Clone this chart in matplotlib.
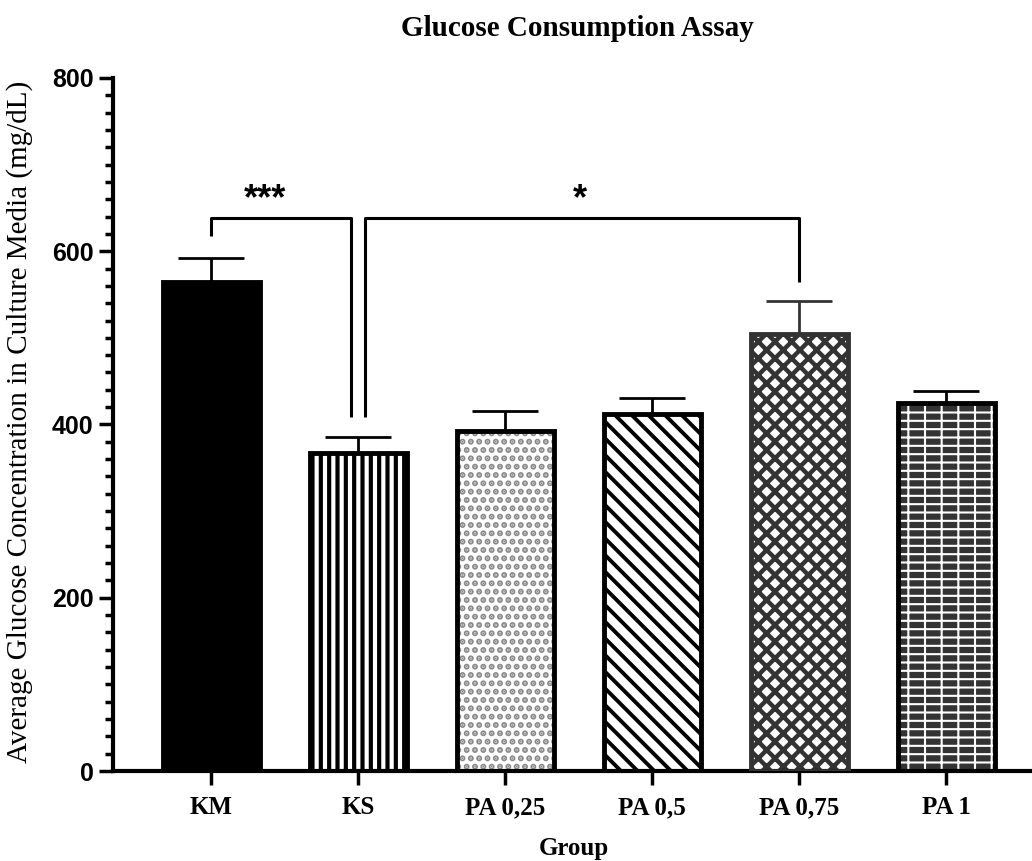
import matplotlib
matplotlib.use("Agg")
import matplotlib.pyplot as plt
from matplotlib.ticker import MultipleLocator

groups = ["KM", "KS", "PA 0,25", "PA 0,5", "PA 0,75", "PA 1"]
means = [565, 367, 392, 412, 504, 425]
errors = [27, 19, 24, 18, 39, 14]

# significance brackets: (x_left, x_right, y_top, y_left_end, y_right_end, label, label_x, label_y)
brackets = [
    (0.0, 0.95, 638, 617, 409, "***", 0.37, 659),
    (1.05, 4.0, 638, 409, 565, "*", 2.51, 659),
]

# fill style per bar: (face, hatch colour, hatch, hatch linewidth, outline colour)
styles = [
    ("black", None, None, 0, "black"),
    ("white", "black", "||", 3.0, "black"),
    ("white", "#8a8a8a", "..", 3.0, "black"),
    ("white", "black", "\\\\", 2.8, "black"),
    ("white", "#333333", "xx", 3.2, "#333333"),
    ("#333333", "white", "--|", 1.5, "black"),
]

serif = "Liberation Serif"
sans = "Liberation Sans"

fig = plt.figure(figsize=(10.32, 8.61), dpi=100)
ax = fig.add_axes([0.1095, 0.1045, 0.8885, 0.805])

x = list(range(len(groups)))
w = 0.66

for i in x:
    face, hcol, hatch, hlw, edge = styles[i]
    plt.rcParams["hatch.linewidth"] = hlw if hlw else 1.0
    if hatch:
        ax.bar(i, means[i], w, color=face, edgecolor=hcol, hatch=hatch, linewidth=0, zorder=2)
    else:
        ax.bar(i, means[i], w, color=face, linewidth=0, zorder=2)
    ax.bar(i, means[i], w, color="none", edgecolor=edge, linewidth=3.5, zorder=3)
    ax.errorbar(i, means[i], yerr=[[0], [errors[i]]], fmt="none", ecolor=edge,
                elinewidth=2, capsize=24, capthick=2, zorder=1)

for xl, xr, yt, yl, yr, lab, lx, ly in brackets:
    ax.plot([xl, xl, xr, xr], [yl, yt, yt, yr], color="black", lw=2.2, solid_capstyle="butt")
    ax.text(lx, ly, lab, ha="center", va="center", fontsize=26, fontweight="bold", family=sans)

ax.set_xlim(-0.667, 5.57)
ax.set_ylim(0, 800)
ax.set_xticks(x)
ax.set_xticklabels(groups, family=serif, fontweight="bold", fontsize=18)
ax.yaxis.set_major_locator(MultipleLocator(200))
ax.yaxis.set_minor_locator(MultipleLocator(20))
for lab in ax.get_yticklabels():
    lab.set_family(sans)
    lab.set_fontweight("bold")
    lab.set_fontsize(18)
ax.tick_params(axis="both", which="major", length=10, width=2.5)
ax.tick_params(axis="y", which="minor", length=6, width=2.5)
ax.tick_params(axis="x", pad=8)
ax.tick_params(axis="y", pad=4)

for s in ["top", "right"]:
    ax.spines[s].set_visible(False)
for s in ["left", "bottom"]:
    ax.spines[s].set_linewidth(3)

fig.text(0.0194, 0.51, "Average Glucose Concentration in Culture Media (mg/dL)", rotation=90,
         ha="center", va="center", family=serif, fontsize=21)
fig.text(0.556, 0.014, "Group", ha="center", va="center", family=serif, fontsize=18, fontweight="bold")
fig.text(0.559, 0.967, "Glucose Consumption Assay", ha="center", va="center",
         family=serif, fontsize=21, fontweight="bold")

fig.savefig("out.png", dpi=100)
